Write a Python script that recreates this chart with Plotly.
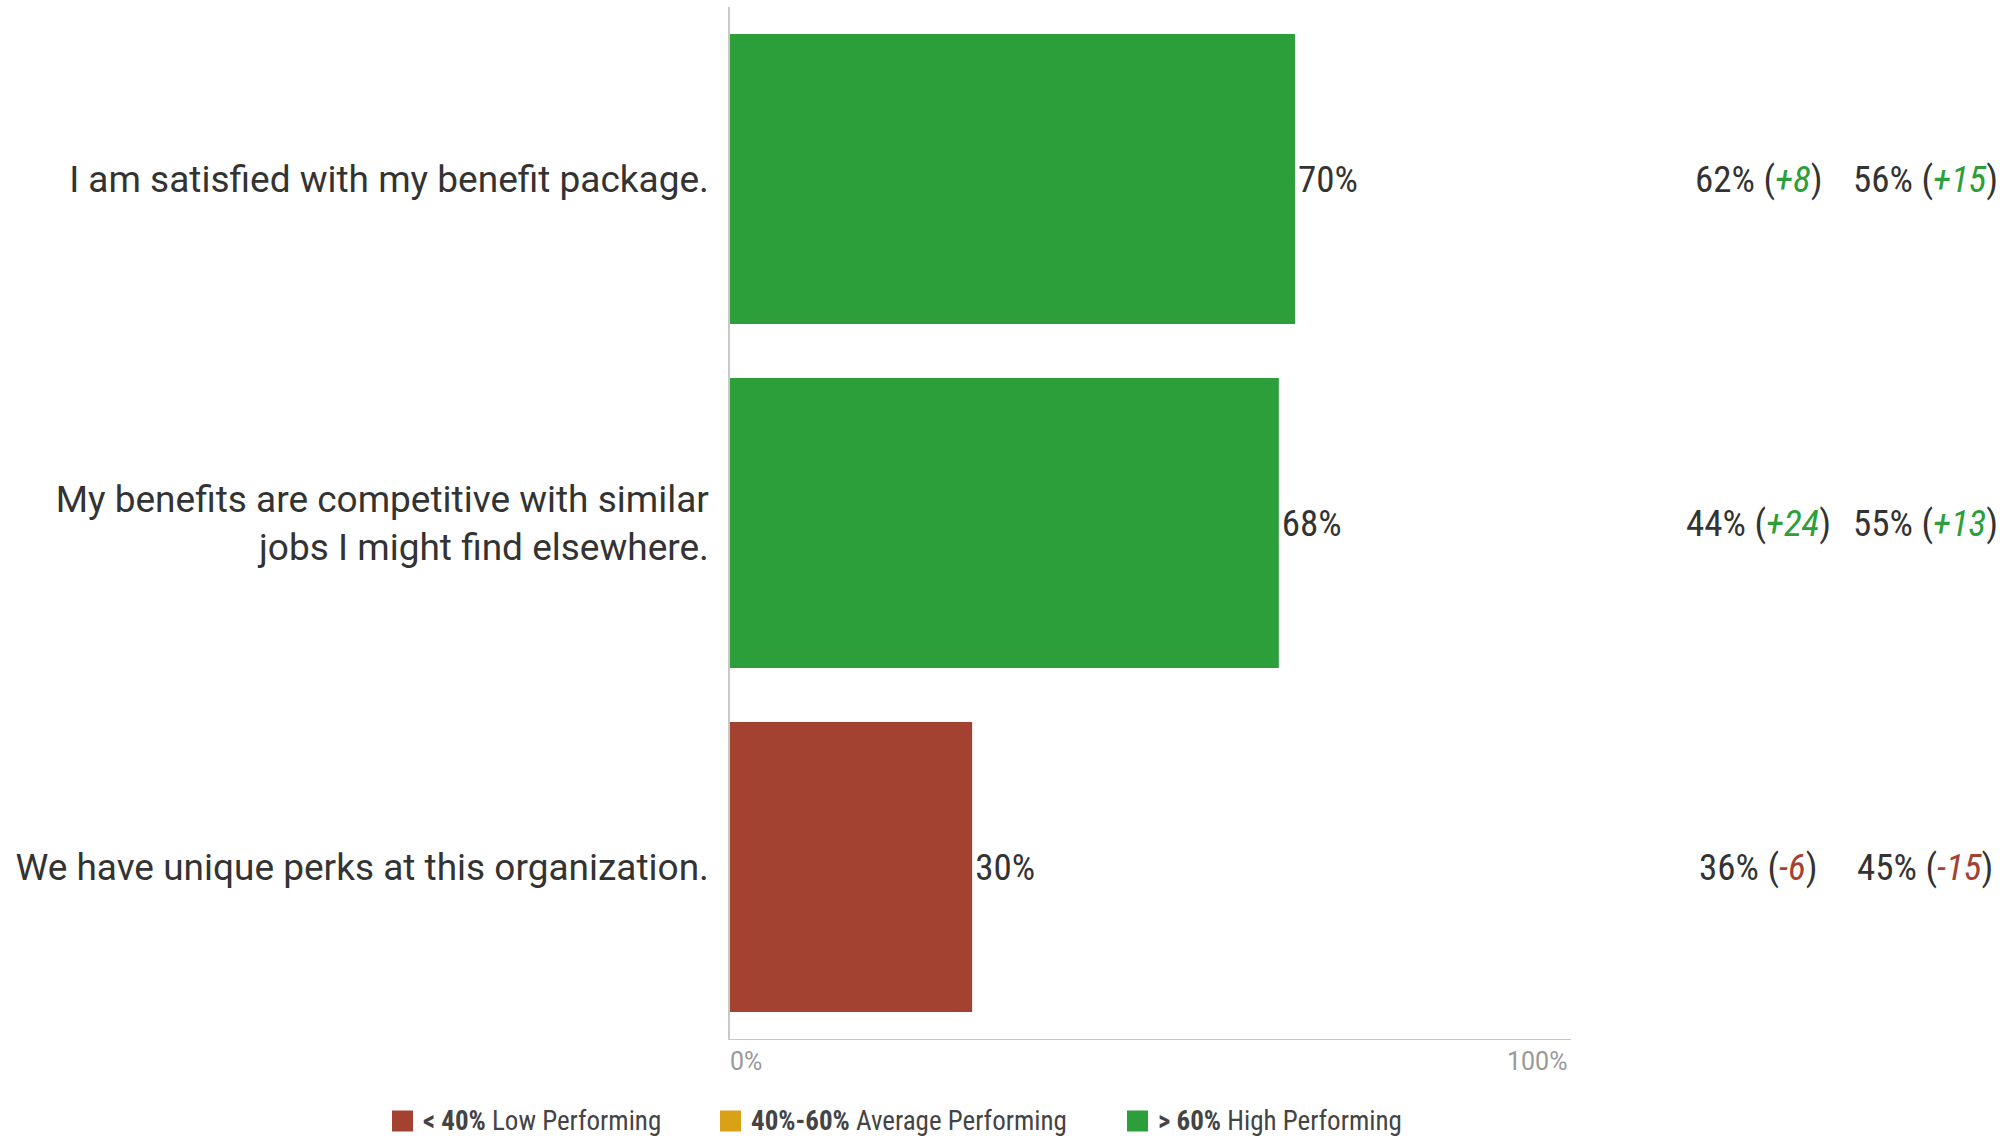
import plotly.graph_objects as go

# Survey statements and current favourable scores
statements = [
    "I am satisfied with my benefit package.",
    "My benefits are competitive with similar<br>jobs I might find elsewhere.",
    "We have unique perks at this organization.",
]
scores = [70, 68, 30]

# Comparison columns: benchmark score and difference
bench_a = [62, 44, 36]
diff_a = [8, 24, -6]
bench_b = [56, 55, 45]
diff_b = [15, 13, -15]

band_names = ["<b>&lt; 40%</b> Low Performing",
              "<b>40%-60%</b> Average Performing",
              "<b>&gt; 60%</b> High Performing"]
band_colors = ["#a34231", "#d9a216", "#2c9f3a"]

TEXT = "#333333"
COND = "Roboto Condensed, Liberation Sans Narrow, Roboto, sans-serif"

# Page geometry (pixels)
W, H = 2013, 1139
L, R, T, B = 730, 442, 7, 100
PW, PH = W - L - R, H - T - B


def px_x(px):
    return (px - L) / PW


def px_y(py):
    return (H - B - py) / PH


def band_color(v):
    if v < 40:
        return band_colors[0]
    if v <= 60:
        return band_colors[1]
    return band_colors[2]


def diff_html(v):
    col = band_colors[2] if v >= 0 else band_colors[0]
    sign = "+" if v >= 0 else "-"
    return f"(<i><span style='color:{col}'>{sign}{abs(v)}</span></i>)"


fig = go.Figure()

fig.add_trace(go.Bar(
    y=statements, x=scores, orientation="h",
    marker=dict(color=[band_color(v) for v in scores], line=dict(width=0)),
    width=0.843,
    text=[f"{v}%" for v in scores], textposition="outside",
    textfont=dict(family=COND, size=37, color=TEXT),
    cliponaxis=False, showlegend=False, hoverinfo="skip",
))

# Comparison column text
for stmt, a, da, b, db in zip(statements, bench_a, diff_a, bench_b, diff_b):
    fig.add_annotation(x=px_x(1758), xref="paper", y=stmt, yref="y",
                       text=f"{a}% {diff_html(da)}", showarrow=False,
                       xanchor="center", yanchor="middle",
                       font=dict(family=COND, size=37, color=TEXT))
    fig.add_annotation(x=px_x(1925), xref="paper", y=stmt, yref="y",
                       text=f"{b}% {diff_html(db)}", showarrow=False,
                       xanchor="center", yanchor="middle",
                       font=dict(family=COND, size=37, color=TEXT))

# Axis end labels
fig.add_annotation(x=0, xref="x", y=px_y(1061), yref="paper", text="0%",
                   showarrow=False, xanchor="left", yanchor="middle",
                   xshift=-2,
                   font=dict(family="Roboto, sans-serif", size=25, color="#999999"))
fig.add_annotation(x=100, xref="x", y=px_y(1061), yref="paper", text="100%",
                   showarrow=False, xanchor="center", yanchor="middle",
                   font=dict(family="Roboto, sans-serif", size=25, color="#999999"))

# Band legend below the chart: swatch + label
legend_left = [392, 720, 1127]
swatch = 21
legend_y = 1121
for name, col, lx in zip(band_names, band_colors, legend_left):
    fig.add_shape(type="rect", xref="paper", yref="paper",
                  x0=px_x(lx), x1=px_x(lx + swatch),
                  y0=px_y(legend_y - swatch / 2), y1=px_y(legend_y + swatch / 2),
                  fillcolor=col, line=dict(width=0))
    fig.add_annotation(x=px_x(lx + swatch + 9), xref="paper",
                       y=px_y(legend_y), yref="paper", text=name,
                       showarrow=False, xanchor="left", yanchor="middle",
                       borderpad=0,
                       font=dict(family=COND, size=27, color="#444444"))

fig.update_layout(
    width=W, height=H,
    margin=dict(l=L, r=R, t=T, b=B, autoexpand=False),
    paper_bgcolor="white", plot_bgcolor="white",
    font=dict(family="Roboto, sans-serif", color=TEXT),
    xaxis=dict(range=[0, 104.2], showgrid=False, zeroline=False,
               showline=True, linecolor="#c8c8c8", linewidth=1,
               showticklabels=False, ticks="", fixedrange=True),
    yaxis=dict(categoryorder="array", categoryarray=statements,
               range=[2.5, -0.5], showgrid=False, zeroline=False,
               showline=True, linecolor="#c8c8c8", linewidth=1.5,
               ticks="", ticklabelstandoff=12,
               tickfont=dict(family="Roboto, sans-serif", size=37, color=TEXT)),
    showlegend=False,
)

fig.write_html("out.html")
